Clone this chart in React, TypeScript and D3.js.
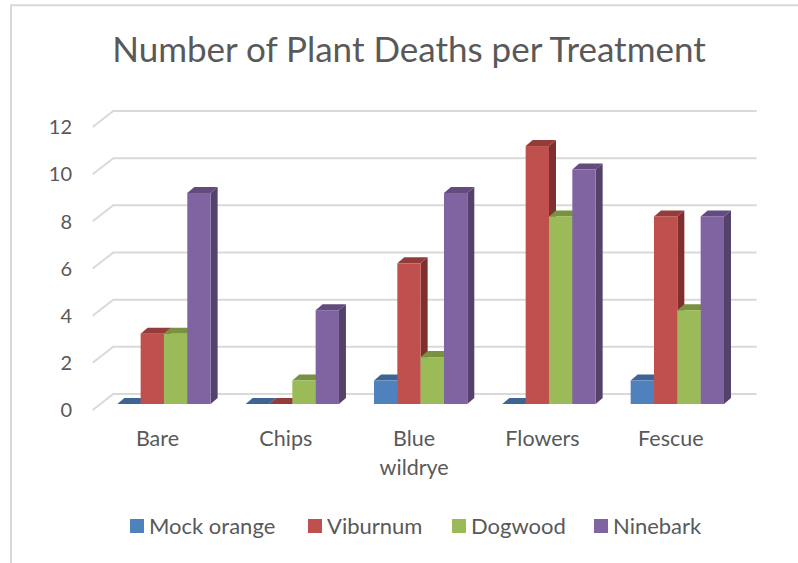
import React from "react";
import * as d3 from "d3";

const categories = ["Bare", "Chips", "Blue wildrye", "Flowers", "Fescue"];
const seriesNames = ["Mock orange", "Viburnum", "Dogwood", "Ninebark"];
const mockOrange = [0, 0, 1, 0, 1];
const viburnum = [3, 0, 6, 11, 8];
const dogwood = [3, 1, 2, 8, 4];
const ninebark = [9, 4, 9, 10, 8];
const yTicks = [0, 2, 4, 6, 8, 10, 12];

const seriesValues = [mockOrange, viburnum, dogwood, ninebark];
const frontColors = ["#4f81bd", "#c0504d", "#9bbb59", "#8064a2"];
const topColors = ["#3c6593", "#943c3a", "#78923f", "#624c7e"];
const sideColors = ["#34587f", "#7f302e", "#6a8236", "#54426b"];

const W = 798;
const H = 563;
const FONT = "Lato, 'Open Sans', sans-serif";
const TEXT = "#595959";
const GRID = "#d9d9d9";

export default function App() {
  const x0 = d3
    .scaleBand<string>()
    .domain(categories)
    .range([99.8, 741.5])
    .paddingInner(0.273)
    .paddingOuter(0.1365);
  const x1 = d3
    .scaleBand<string>()
    .domain(seriesNames)
    .range([0, x0.bandwidth()]);
  const yFront = d3.scaleLinear().domain([0, 12]).range([404, 122.6]);
  const yBack = d3.scaleLinear().domain([0, 12]).range([394, 111]);

  const depthX = 7;
  const depthY = -6;
  const gridFrontX = 92.7;
  const gridBackX = 113.3;
  const gridRightX = 756.7;
  const gridDrop = 16;

  const legendX = [130, 308, 452, 594];

  const bars: React.ReactNode[] = [];
  categories.forEach((cat, ci) => {
    seriesNames.forEach((s, si) => {
      const v = seriesValues[si][ci];
      const x = (x0(cat) as number) + (x1(s) as number);
      const w = x1.bandwidth();
      const yT = yFront(v);
      const yB = yFront(0);
      const key = `${ci}-${si}`;
      const top = `M${x},${yT}L${x + w},${yT}L${x + w + depthX},${yT + depthY}L${x + depthX},${yT + depthY}Z`;
      const side = `M${x + w},${yT}L${x + w + depthX},${yT + depthY}L${x + w + depthX},${yB + depthY}L${x + w},${yB}Z`;
      bars.push(
        <g key={key}>
          {v > 0 && <path d={side} fill={sideColors[si]} />}
          <path d={top} fill={topColors[si]} />
          {v > 0 && (
            <rect x={x} y={yT} width={w} height={yB - yT} fill={frontColors[si]} />
          )}
        </g>
      );
    });
  });

  return (
    <>
      <style>{`body{margin:0}`}</style>
      <svg width={W} height={H} style={{ display: "block", background: "#fff" }}>
        <path
          d={`M11,${H}L11,5.3L${W},5.3`}
          fill="none"
          stroke={GRID}
          strokeWidth={2}
        />
        <text
          x={409}
          y={62}
          textAnchor="middle"
          fontFamily={FONT}
          fontSize={35}
          fill={TEXT}
        >
          Number of Plant Deaths per Treatment
        </text>

        {yTicks.map((t) => (
          <g key={t}>
            <path
              d={`M${gridFrontX},${yBack(t) + gridDrop}L${gridBackX},${yBack(t)}L${gridRightX},${yBack(t)}`}
              fill="none"
              stroke={GRID}
              strokeWidth={2}
            />
            <text
              x={72}
              y={yBack(t) + gridDrop}
              dy="0.36em"
              textAnchor="end"
              fontFamily={FONT}
              fontSize={20}
              fill={TEXT}
            >
              {t}
            </text>
          </g>
        ))}

        {bars}

        {categories.map((cat) => {
          const cx = (x0(cat) as number) + x0.bandwidth() / 2 - 6.5;
          const words = cat === "Blue wildrye" ? ["Blue", "wildrye"] : [cat];
          return (
            <text
              key={cat}
              x={cx}
              y={446}
              textAnchor="middle"
              fontFamily={FONT}
              fontSize={21.5}
              fill={TEXT}
            >
              {words.map((wd, i) => (
                <tspan key={wd} x={cx} dy={i === 0 ? 0 : 29}>
                  {wd}
                </tspan>
              ))}
            </text>
          );
        })}

        {seriesNames.map((s, i) => (
          <g key={s}>
            <rect x={legendX[i]} y={519} width={14} height={14} fill={frontColors[i]} />
            <text
              x={legendX[i] + 19}
              y={526}
              dy="0.36em"
              fontFamily={FONT}
              fontSize={22}
              fill={TEXT}
            >
              {s}
            </text>
          </g>
        ))}
      </svg>
    </>
  );
}
